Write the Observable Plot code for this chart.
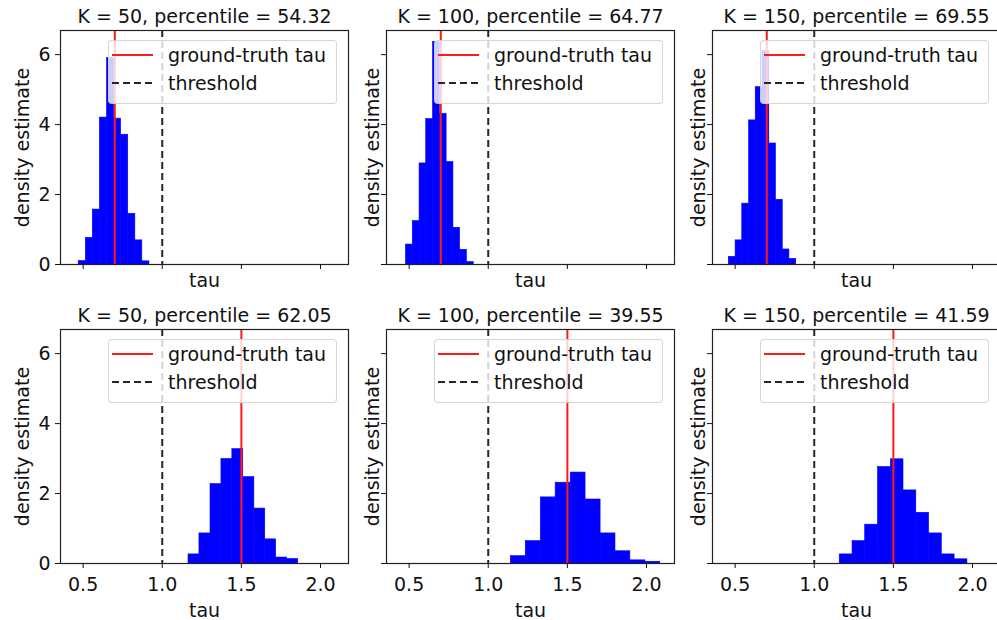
<!DOCTYPE html>
<html><head><meta charset="utf-8">
<script src="https://cdn.jsdelivr.net/npm/d3@7"></script>
<script src="https://cdn.jsdelivr.net/npm/@observablehq/plot@0.6"></script>
<style>
html,body{margin:0;padding:0;background:#fff;overflow:hidden;}
#fig{position:relative;width:997px;height:620px;overflow:hidden;font-family:"DejaVu Sans",sans-serif;background:#fff;}
.panel{position:absolute;}
.legend{position:absolute;background:rgba(255,255,255,0.8);border:1px solid rgba(204,204,204,0.8);border-radius:4px;box-sizing:border-box;}
</style></head><body><div id="fig"></div>
<script>
// ---- data ----
const ks = [50, 100, 150];
const percentilesTop = [54.32, 64.77, 69.55];
const percentilesBottom = [62.05, 39.55, 41.59];
const trueTauTop = 0.7;
const trueTauBottom = 1.5;
const threshold = 1.0;

const edgesTopK50 = [0.472, 0.517, 0.561, 0.606, 0.651, 0.696, 0.740, 0.785, 0.830, 0.874, 0.919];
const densTopK50 = [0.10, 0.76, 1.57, 4.20, 5.90, 4.17, 3.71, 1.45, 0.69, 0.09];
const edgesTopK100 = [0.480, 0.523, 0.566, 0.608, 0.651, 0.694, 0.737, 0.780, 0.822, 0.865, 0.908];
const densTopK100 = [0.57, 1.24, 2.89, 4.16, 6.36, 4.31, 2.93, 1.05, 0.42, 0.07];
const edgesTopK150 = [0.460, 0.503, 0.545, 0.588, 0.630, 0.673, 0.716, 0.758, 0.801, 0.843, 0.886];
const densTopK150 = [0.22, 0.69, 1.74, 4.12, 5.07, 6.10, 3.46, 1.85, 0.43, 0.16];

const edgesBotK50 = [1.166, 1.235, 1.305, 1.374, 1.443, 1.512, 1.582, 1.651, 1.720, 1.790, 1.859];
const densBotK50 = [0.26, 0.86, 2.27, 2.99, 3.27, 2.47, 1.57, 0.69, 0.17, 0.13];
const edgesBotK100 = [1.143, 1.237, 1.332, 1.426, 1.521, 1.615, 1.710, 1.804, 1.898, 1.993, 2.087];
const densBotK100 = [0.21, 0.64, 1.89, 2.31, 2.60, 1.83, 0.86, 0.35, 0.09, 0.05];
const edgesBotK150 = [1.161, 1.242, 1.322, 1.403, 1.484, 1.564, 1.645, 1.726, 1.806, 1.887, 1.968];
const densBotK150 = [0.26, 0.64, 1.11, 2.76, 2.98, 2.09, 1.45, 0.86, 0.26, 0.12];

const xTicks = [0.5, 1.0, 1.5, 2.0];
const yTicks = [0, 2, 4, 6];
const xDomain = [0.357, 2.177];
const yDomain = [0, 6.69];
const legendLabels = ["ground-truth tau", "threshold"];
const xLabel = "tau";
const yLabel = "density estimate";

// ---- layout ----
const FS = 19;
const frameLefts = [60, 386, 712];
const frameTops = [30, 329];
const ML = 60, MR = 12, MT = 30, MB = 57, FW = 288, FH = 234;
const fig = document.getElementById("fig");

function panel(c, r, edges, dens, gt, pct) {
  const bins = dens.map((h, i) => ({x1: edges[i], x2: edges[i + 1], h}));
  const k = ks[c];
  const svg = Plot.plot({
    width: ML + FW + MR, height: MT + FH + MB,
    marginLeft: ML, marginRight: MR, marginTop: MT, marginBottom: MB,
    x: {domain: xDomain, label: null},
    y: {domain: yDomain, label: null},
    style: {background: "transparent", fontFamily: "DejaVu Sans", fontSize: FS + "px", color: "#111", overflow: "visible", maxWidth: "none"},
    marks: [
      Plot.rectY(bins, {x1: "x1", x2: "x2", y: "h", fill: "#0000ff", stroke: "#0000ff", strokeWidth: 0.6}),
      Plot.ruleX([gt], {stroke: "#ff1a1a", strokeWidth: 2}),
      Plot.ruleX([threshold], {stroke: "#262626", strokeWidth: 2, strokeDasharray: "7,4"}),
      Plot.frame({stroke: "#222", strokeWidth: 1.2}),
      Plot.axisX(xTicks, {tickSize: 5, tickPadding: 9, fontSize: FS, label: null,
        tickFormat: r === 1 ? d3.format(".1f") : () => ""}),
      Plot.axisY(yTicks, {tickSize: 5, tickPadding: 5, fontSize: FS, label: null,
        tickFormat: c === 0 ? d => String(d) : () => ""}),
      Plot.text([`K = ${k}, percentile = ${pct.toFixed(2)}`], {text: d => d, frameAnchor: "top", dy: -14, lineAnchor: "middle", textAnchor: "middle", fontSize: FS, fill: "#111"}),
      Plot.text([xLabel], {text: d => d, frameAnchor: "bottom", dy: r === 1 ? 47 : 16, lineAnchor: "middle", textAnchor: "middle", fontSize: FS, fill: "#111"}),
      Plot.text([yLabel], {text: d => d, frameAnchor: "left", dx: c === 0 ? -38 : -14, rotate: -90, lineAnchor: "middle", textAnchor: "middle", fontSize: FS, fill: "#111"})
    ]
  });
  const div = document.createElement("div");
  div.className = "panel";
  div.style.left = (frameLefts[c] - ML) + "px";
  div.style.top = (frameTops[r] - MT) + "px";
  div.appendChild(svg);
  fig.appendChild(div);

  // legend (matplotlib-style, semi-transparent box on top of the axes)
  const lg = document.createElement("div");
  lg.className = "legend";
  lg.style.left = (frameLefts[c] + 48) + "px";
  lg.style.top = (frameTops[r] + 10) + "px";
  lg.style.width = "229px";
  lg.style.height = "64px";
  lg.innerHTML = `<svg width="229" height="64" style="position:absolute;left:-1px;top:-1px;overflow:visible">
    <line x1="4" x2="45" y1="15" y2="15" stroke="#ff1a1a" stroke-width="2"/>
    <line x1="4" x2="45" y1="43" y2="43" stroke="#262626" stroke-width="2" stroke-dasharray="7,4"/>
    <text x="60" y="15" dy="0.35em" font-family="DejaVu Sans" font-size="${FS}" fill="#111">${legendLabels[0]}</text>
    <text x="60" y="43" dy="0.35em" font-family="DejaVu Sans" font-size="${FS}" fill="#111">${legendLabels[1]}</text>
  </svg>`;
  fig.appendChild(lg);
}

panel(0, 0, edgesTopK50, densTopK50, trueTauTop, percentilesTop[0]);
panel(1, 0, edgesTopK100, densTopK100, trueTauTop, percentilesTop[1]);
panel(2, 0, edgesTopK150, densTopK150, trueTauTop, percentilesTop[2]);
panel(0, 1, edgesBotK50, densBotK50, trueTauBottom, percentilesBottom[0]);
panel(1, 1, edgesBotK100, densBotK100, trueTauBottom, percentilesBottom[1]);
panel(2, 1, edgesBotK150, densBotK150, trueTauBottom, percentilesBottom[2]);
</script></body></html>
